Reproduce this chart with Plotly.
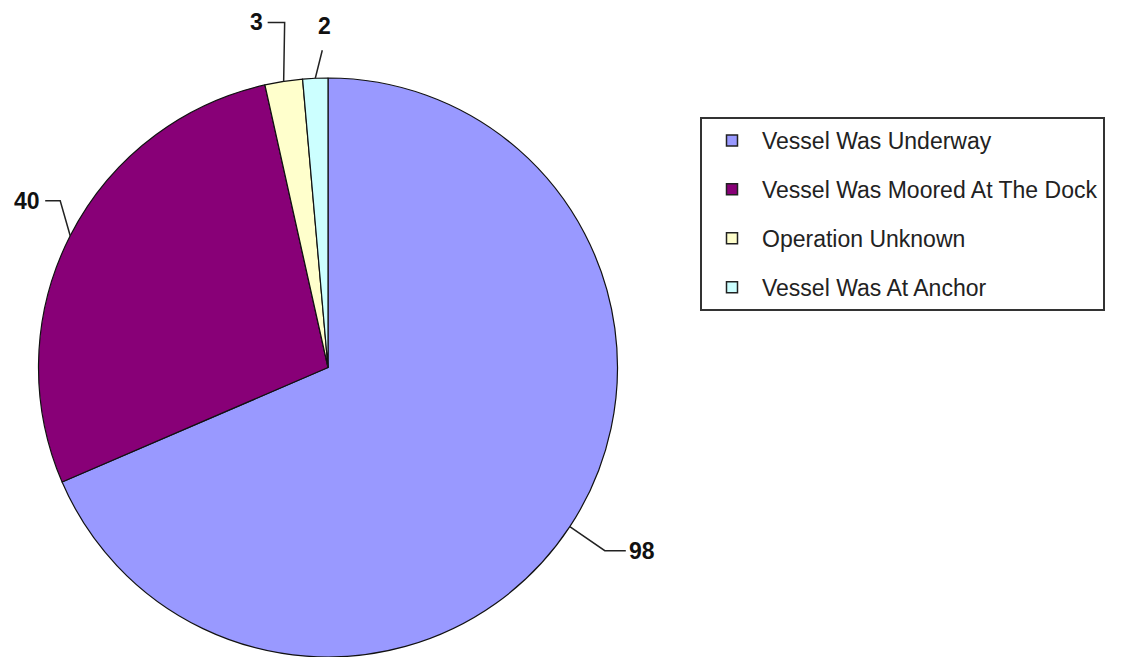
import numpy as np
import plotly.graph_objects as go

labels = ["Vessel Was Underway", "Vessel Was Moored At The Dock", "Operation Unknown", "Vessel Was At Anchor"]
values = [98, 40, 3, 2]
colors = ["#9999FF", "#880077", "#FFFFCC", "#CCFFFF"]

W, H = 1144, 657
# pie domain (pixels)
px0, px1 = 38, 618
py_top, py_bot = 78, 657
dom_x = [px0 / W, px1 / W]
dom_y = [0, (H - py_top) / H]

fig = go.Figure()
fig.add_trace(go.Pie(
    labels=labels, values=values, sort=False, direction="clockwise", rotation=0,
    marker=dict(colors=colors, line=dict(color="#111111", width=1.2)),
    textinfo="none", showlegend=False, domain=dict(x=dom_x, y=dom_y),
))

# legend entries (one per category)
for lab, col in zip(labels, colors):
    fig.add_trace(go.Scatter(
        x=[None], y=[None], mode="markers", name=lab, legendgroup=lab,
        marker=dict(symbol="square", size=11, color=col, line=dict(color="#222222", width=1.5)),
    ))

# leader lines + value labels computed from the data
cx = (px0 + px1) / 2
r = min(px1 - px0, py_bot - py_top) / 2
cy = py_top + r
tot = sum(values)
cum = np.cumsum([0] + values)
# (knee dx, knee dy, end dx, end dy, text anchor, text dx, text dy)
style = [
    (35, 24, 56, 24, "left", 1, 0),
    (-10, -35, -25, -35, "right", -3, 0),
    (1, -59, -16, -59, "right", -3, 0),
    (7, -28, 7, -28, "center", 2, -24),
]
def to_paper(x, y):
    return x / W, 1 - y / H

for i, v in enumerate(values):
    mid = (cum[i] + v / 2) / tot * 2 * np.pi
    ex, ey = cx + r * np.sin(mid), cy - r * np.cos(mid)
    kdx, kdy, edx, edy, anc, tdx, tdy = style[i]
    pts = [(ex, ey), (ex + kdx, ey + kdy), (ex + edx, ey + edy)]
    pp = [to_paper(*p) for p in pts]
    path = "M {} {} L {} {} L {} {}".format(pp[0][0], pp[0][1], pp[1][0], pp[1][1], pp[2][0], pp[2][1])
    fig.add_shape(type="path", path=path, xref="paper", yref="paper",
                  line=dict(color="#222222", width=1.5))
    tx, ty = to_paper(ex + edx + tdx, ey + edy + tdy)
    fig.add_annotation(x=tx, y=ty, xref="paper", yref="paper", text="<b>%d</b>" % v,
                       showarrow=False, xanchor=anc, yanchor="middle",
                       font=dict(family="Liberation Sans, Arial", size=23, color="#111111"))

fig.update_layout(
    width=W, height=H, margin=dict(l=0, r=0, t=0, b=0),
    paper_bgcolor="white", plot_bgcolor="white",
    xaxis=dict(visible=False), yaxis=dict(visible=False),
    legend=dict(
        x=700 / W, y=1 - 117 / H, xanchor="left", yanchor="top",
        bordercolor="#333333", borderwidth=2, bgcolor="white",
        font=dict(family="Liberation Sans, Arial", size=23, color="#222222"),
        tracegroupgap=16, itemwidth=50,
    ),
)
fig.write_html("out.html")
